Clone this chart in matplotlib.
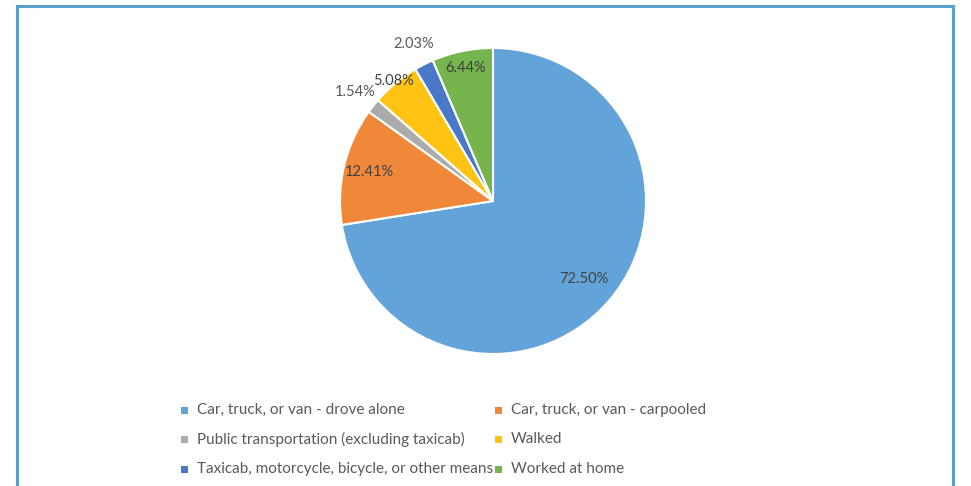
import numpy as np
import matplotlib.pyplot as plt
from matplotlib.patches import Rectangle
from matplotlib.lines import Line2D

categories = [
    "Car, truck, or van - drove alone",
    "Car, truck, or van - carpooled",
    "Public transportation (excluding taxicab)",
    "Walked",
    "Taxicab, motorcycle, bicycle, or other means",
    "Worked at home",
]
shares = [72.50, 12.41, 1.54, 5.08, 2.03, 6.44]
colors = ["#62A3D9", "#F0883A", "#ABABAB", "#FFC413", "#4A78C8", "#76B44E"]
# label distance from the centre, in radii
label_dist = [0.78, 0.83, 1.15, 1.02, 1.15, 0.89]

W, H = 971, 486
plt.rcParams["font.family"] = ["Lato", "DejaVu Sans"]

fig = plt.figure(figsize=(W / 100, H / 100), dpi=100)

# frame round the chart (open at the bottom)
frame = "#5A9FC8"
top = 1 - 6 / H
for xs, ys in [([17 / W, 17 / W], [0, top]),
               ([17 / W, 953 / W], [top, top]),
               ([953 / W, 953 / W], [0, top])]:
    fig.add_artist(Line2D(xs, ys, color=frame, lw=2.2, transform=fig.transFigure))

cx, cy, r = 493, 201, 153
ax = fig.add_axes([(cx - r) / W, 1 - (cy + r) / H, 2 * r / W, 2 * r / H])
wedges, texts = ax.pie(
    shares, colors=colors, startangle=90, counterclock=False,
    wedgeprops=dict(edgecolor="white", linewidth=1.5),
)
for w, val, d in zip(wedges, shares, label_dist):
    ang = np.deg2rad((w.theta1 + w.theta2) / 2)
    col = "#404040" if d < 1.1 else "#595959"
    ax.text(d * np.cos(ang), d * np.sin(ang), f"{val:.2f}%", ha="center",
            va="center", fontsize=10.5, color=col)
ax.set_xlim(-1, 1)
ax.set_ylim(-1, 1)
ax.axis("off")

# legend, two columns
col_x = [184, 498]
row_y = [410, 439, 469]
for i, (name, c) in enumerate(zip(categories, colors)):
    x = col_x[i % 2]
    y = row_y[i // 2]
    fig.add_artist(Rectangle(((x - 3.5) / W, 1 - (y + 3.5) / H), 7 / W, 7 / H,
                             facecolor=c, edgecolor="none",
                             transform=fig.transFigure))
    fig.text((x + 13) / W, 1 - y / H, name, ha="left", va="center",
             fontsize=11, color="#595959")

fig.savefig("out.png", dpi=100)
